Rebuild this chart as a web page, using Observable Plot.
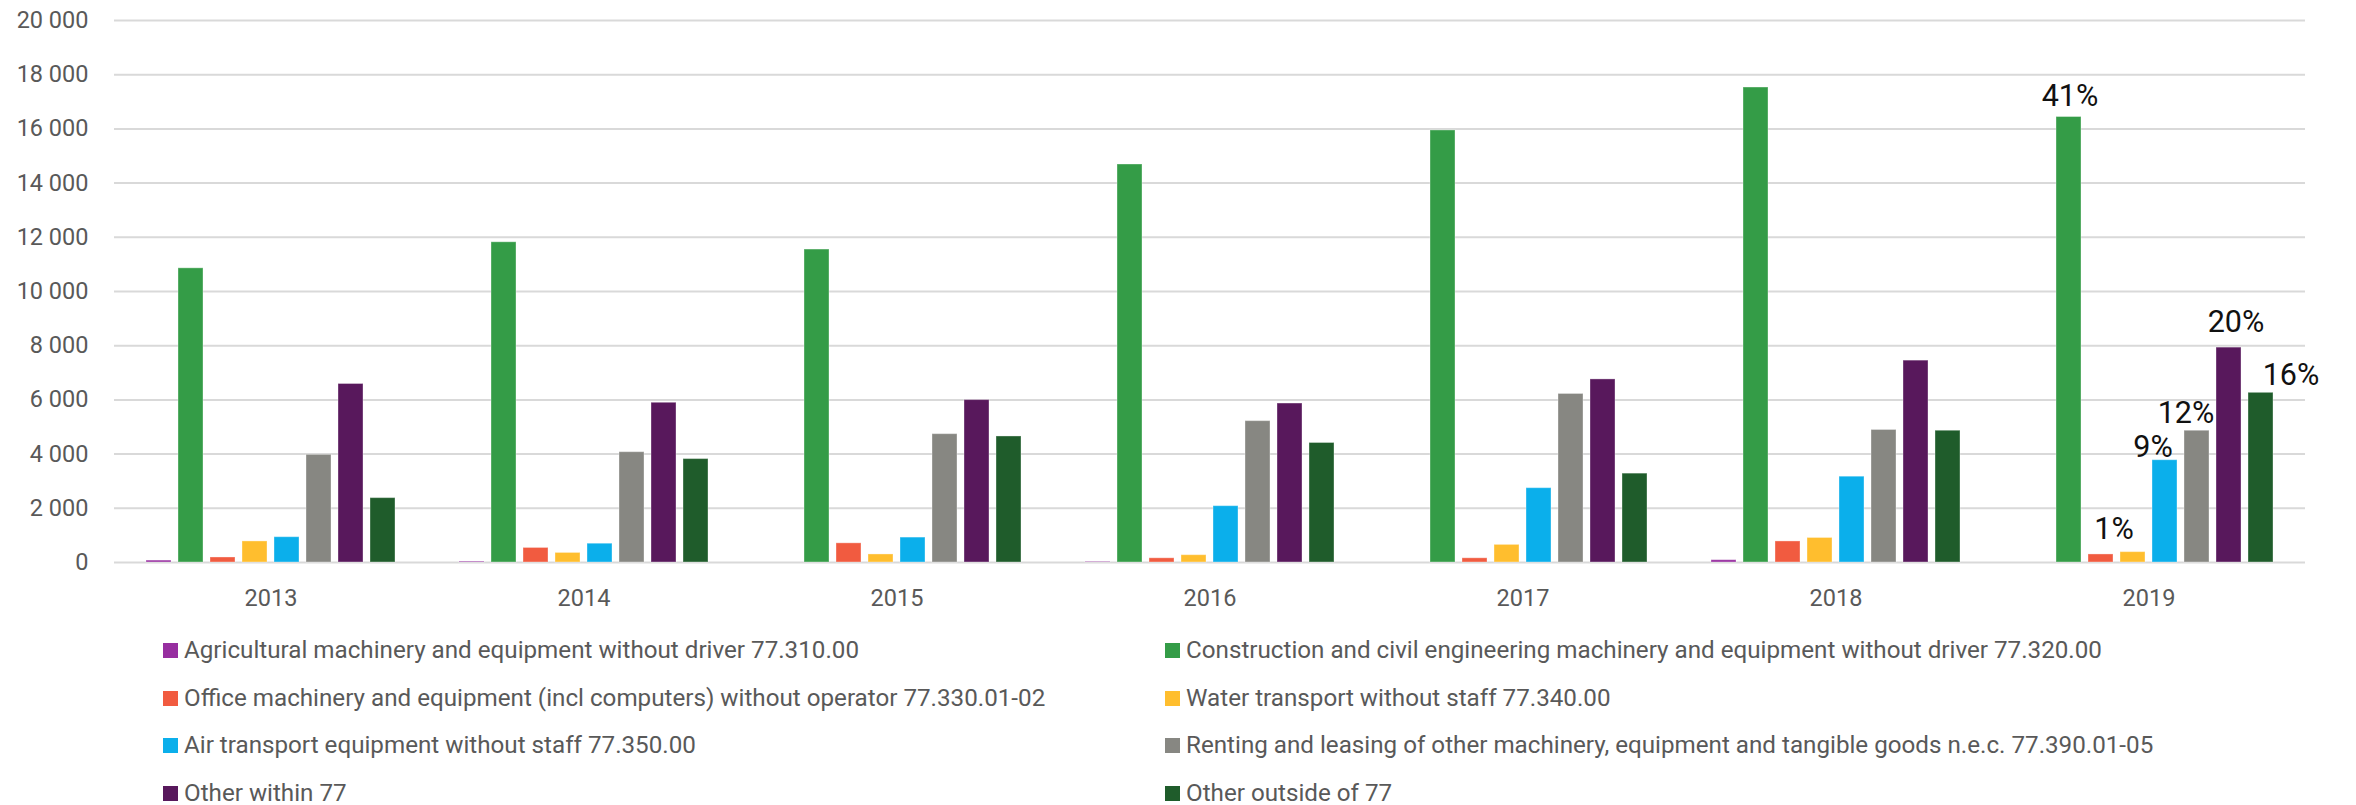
<!DOCTYPE html>
<html><head><meta charset="utf-8">
<script src="https://cdn.jsdelivr.net/npm/d3@7"></script>
<script src="https://cdn.jsdelivr.net/npm/@observablehq/plot@0.6"></script>
<style>
html,body{margin:0;padding:0;background:#fff;}
body{width:2356px;height:805px;overflow:hidden;font-family:Roboto,sans-serif;}
#chart svg{display:block;}
.legend{display:grid;grid-template-columns:1002px auto;padding-left:163px;font-family:Roboto,sans-serif;font-size:24.2px;line-height:47.6px;color:#595959;white-space:nowrap;}
.legend .sw{display:inline-block;width:15px;height:15px;margin-right:6px;}
</style></head><body>
<div id="chart"></div>
<script>
// ---- data ----
const years = ["2013", "2014", "2015", "2016", "2017", "2018", "2019"];
const series = [
  "Agricultural machinery and equipment without driver 77.310.00",
  "Construction and civil engineering machinery and equipment without driver 77.320.00",
  "Office machinery and equipment (incl computers) without operator 77.330.01-02",
  "Water transport without staff 77.340.00",
  "Air transport equipment without staff 77.350.00",
  "Renting and leasing of other machinery, equipment and tangible goods n.e.c. 77.390.01-05",
  "Other within 77",
  "Other outside of 77"
];
const agricultural   = [70, 30, 0, 20, 0, 85, 0];
const construction   = [10855, 11816, 11548, 14686, 15943, 17527, 16438];
const office         = [185, 537, 707, 155, 155, 777, 297];
const water          = [777, 353, 297, 269, 650, 905, 382];
const air            = [933, 693, 919, 2078, 2742, 3166, 3774];
const renting        = [3972, 4070, 4735, 5216, 6219, 4890, 4862];
const otherWithin    = [6587, 5894, 5993, 5866, 6756, 7449, 7929];
const otherOutside   = [2375, 3816, 4650, 4410, 3279, 4862, 6261];
const yTicks = [0, 2000, 4000, 6000, 8000, 10000, 12000, 14000, 16000, 18000, 20000];
const labelYear = "2019";
const labelledSeries = [series[1], series[3], series[4], series[5], series[6], series[7]];

// ---- styles ----
const palette = ["#972ea0", "#349c47", "#f15b40", "#ffbe2e", "#0bafeb", "#878782", "#58185c", "#1f5c2b"];
const labelOffsets = { // dx, dy per labelled series (manual label placement)
  [series[1]]: [1, -11],
  [series[3]]: [-19, -13],
  [series[4]]: [-12, -3],
  [series[5]]: [-11, -8],
  [series[6]]: [7, -16],
  [series[7]]: [30, -8]
};

const valueSets = [agricultural, construction, office, water, air, renting, otherWithin, otherOutside];
const table = [];
series.forEach((s, i) => years.forEach((y, j) => table.push({year: y, series: s, value: valueSets[i][j]})));

const fmt = d3.formatLocale({decimal: ".", thousands: " ", grouping: [3], currency: ["", ""]}).format(",d");
const rows2019 = table.filter(d => d.year === labelYear);
const total = d3.sum(rows2019, d => d.value);

const labelMarks = labelledSeries.map(s => Plot.text(rows2019.filter(d => d.series === s), {
  fx: "year", x: "series", y: "value",
  text: d => Math.round(d.value / total * 100) + "%",
  dx: labelOffsets[s][0], dy: labelOffsets[s][1],
  lineAnchor: "bottom", textAnchor: "middle",
  fontSize: 30.5, fill: "#111"
}));

const chart = Plot.plot({
  width: 2356, height: 627,
  marginLeft: 112, marginRight: 49, marginTop: 20, marginBottom: 65,
  style: {fontFamily: "Roboto", fontSize: "23.5px", color: "#595959", background: "#fff"},
  fx: {domain: years, padding: 0, label: null},
  x: {domain: series, paddingInner: 0.227, paddingOuter: 0.865, axis: null},
  y: {domain: [0, 20000], label: null},
  color: {domain: series, range: palette},
  marks: [
    Plot.gridY(yTicks, {stroke: "#d9d9d9", strokeOpacity: 1, strokeWidth: 2}),
    Plot.axisY(yTicks, {tickSize: 0, tickPadding: 26, tickFormat: fmt, label: null}),
    Plot.axisFx({anchor: "bottom", tickSize: 0, tickPadding: 27, label: null}),
    Plot.barY(table, {fx: "year", x: "series", y: "value", fill: "series", stroke: "#fff", strokeOpacity: 0.35, strokeWidth: 1}),
    ...labelMarks
  ]
});
document.getElementById("chart").appendChild(chart);

const legend = document.createElement("div");
legend.className = "legend";
series.forEach((s, i) => {
  const item = document.createElement("div");
  const sw = document.createElement("span");
  sw.className = "sw";
  sw.style.background = palette[i];
  item.appendChild(sw);
  item.appendChild(document.createTextNode(s));
  legend.appendChild(item);
});
document.body.appendChild(legend);
</script>
</body></html>
